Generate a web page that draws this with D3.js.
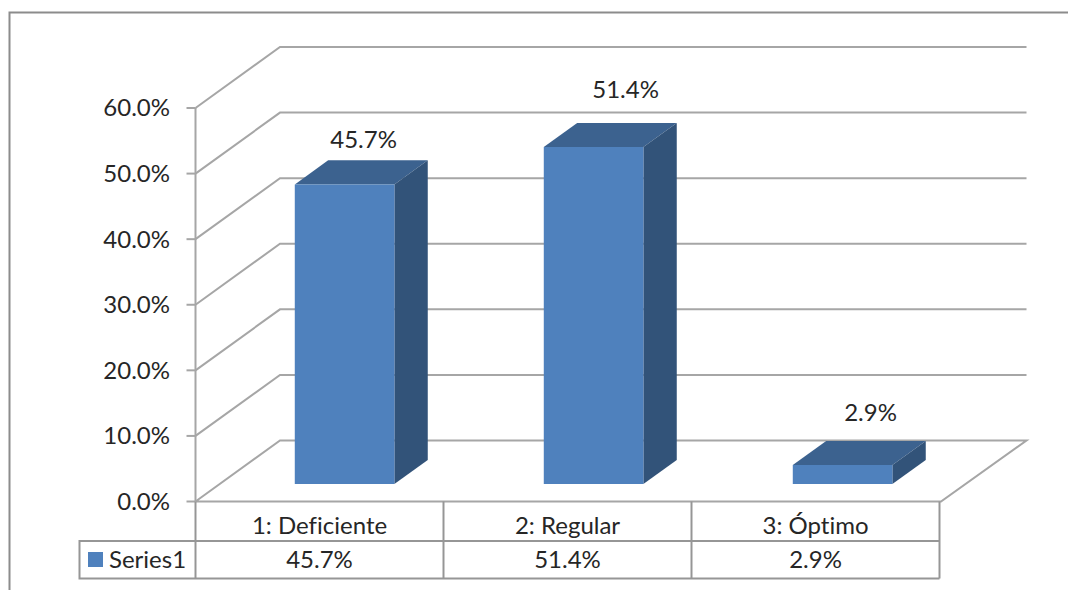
<!DOCTYPE html>
<html>
<head>
<meta charset="utf-8">
<script src="https://cdn.jsdelivr.net/npm/d3@7/dist/d3.min.js"></script>
<style>
html,body{margin:0;padding:0;background:#fff;}
svg{display:block;}
text{font-family:Lato,"Open Sans",sans-serif;fill:#262626;font-variant-ligatures:none;}
</style>
</head>
<body>
<svg id="chart" width="1068" height="590"></svg>
<script>
const categories = ["1: Deficiente", "2: Regular", "3: Óptimo"];
const seriesName = "Series1";
const values = [45.7, 51.4, 2.9];
const yTicks = [0, 10, 20, 30, 40, 50, 60];
// hand-placed data labels, relative to each column's front top-centre
const labelNudgeX = [19, 32, 28];
const labelNudgeY = [-45, -57, -52];

const H = 590, W = 1068;
const gridColor = "#a6a6a6", frameColor = "#8c8c8c", tableColor = "#969696";
const front = "#4f81bd", top_ = "#3c628f", side = "#325379";
const labelSize = 24, tableSize = 24;

const svg = d3.select("#chart");
const fmt = v => v.toFixed(1) + "%";

const y = d3.scaleLinear().domain([0, 60]).range([501.5, 108]);
const x = d3.scaleBand().domain(categories).range([195.5, 939.5]);
const barX = d3.scaleBand().domain(categories).range([196, 943]);
// floor depth: 0 is the front edge, 1 the back wall
const zx = d3.scaleLinear().domain([0, 1]).range([0, 84.5]);
const zy = d3.scaleLinear().domain([0, 1]).range([0, -61]);
const barFrontZ = 0.285, barBackZ = 0.68, barFrac = 0.4;
const backRight = 1026.5;

// chart area frame: only the top and left edges fall on the page
svg.append("path")
  .attr("d", d3.line()([[9.5, H], [9.5, 12.5], [W, 12.5]]))
  .attr("fill", "none").attr("stroke", frameColor).attr("stroke-width", 2);

const grid = svg.append("g").attr("fill", "none").attr("stroke", gridColor).attr("stroke-width", 2);
yTicks.forEach(t => {
  const pts = t === 0
    ? [[x.range()[0], y(0)], [x.range()[0] + zx(1), y(0) + zy(1)], [backRight, y(0) + zy(1)], [x.range()[1] + 1.5, y(0)], [x.range()[0], y(0)]]
    : [[x.range()[0], y(t)], [x.range()[0] + zx(1), y(t) + zy(1)], [backRight, y(t) + zy(1)]];
  grid.append("path").attr("d", d3.line()(pts));
  grid.append("line").attr("x1", x.range()[0] - 9).attr("x2", x.range()[0])
    .attr("y1", y(t)).attr("y2", y(t));
});
grid.append("line").attr("x1", x.range()[0]).attr("x2", x.range()[0]).attr("y1", y(60)).attr("y2", y(0));

svg.append("g").selectAll("text").data(yTicks).join("text")
  .attr("x", 170).attr("y", d => y(d))
  .attr("dy", "0.35em").attr("text-anchor", "end").attr("font-size", labelSize)
  .text(fmt);

// columns drawn as three visible faces
const bars = svg.append("g").selectAll("g").data(values).join("g");
const geom = (d, i) => {
  const w = barX.bandwidth() * barFrac;
  const l = barX(categories[i]) + (barX.bandwidth() - w) / 2 + zx(barFrontZ);
  const r = l + w;
  const b = y(0) + zy(barFrontZ), t = y(d) + zy(barFrontZ);
  const dx = zx(barBackZ - barFrontZ), dy = zy(barBackZ - barFrontZ);
  return {l, r, b, t, dx, dy};
};
bars.append("path").attr("fill", top_).attr("d", (d, i) => {
  const g = geom(d, i);
  return d3.line()([[g.l, g.t], [g.r, g.t], [g.r + g.dx, g.t + g.dy], [g.l + g.dx, g.t + g.dy]]) + "Z";
});
bars.append("path").attr("fill", side).attr("d", (d, i) => {
  const g = geom(d, i);
  return d3.line()([[g.r, g.t], [g.r + g.dx, g.t + g.dy], [g.r + g.dx, g.b + g.dy], [g.r, g.b]]) + "Z";
});
bars.append("path").attr("fill", front).attr("d", (d, i) => {
  const g = geom(d, i);
  return d3.line()([[g.l, g.t], [g.r, g.t], [g.r, g.b], [g.l, g.b]]) + "Z";
});
bars.append("text")
  .attr("x", (d, i) => { const g = geom(d, i); return (g.l + g.r) / 2 + labelNudgeX[i]; })
  .attr("y", (d, i) => geom(d, i).t + labelNudgeY[i])
  .attr("dy", "0.35em").attr("text-anchor", "middle").attr("font-size", labelSize)
  .text(fmt);

// data table under the plot
const rowTop = y(0), rowMid = 541, rowBot = 578.5, legendLeft = 79.5;
const table = svg.append("g").attr("fill", "none").attr("stroke", tableColor).attr("stroke-width", 2);
const edges = [...x.domain().map(c => x(c)), x.range()[1]];
edges.forEach(e => table.append("line").attr("x1", e).attr("x2", e).attr("y1", rowTop).attr("y2", rowBot));
table.append("path").attr("d", d3.line()([[x.range()[1], rowMid], [legendLeft, rowMid], [legendLeft, rowBot], [x.range()[1], rowBot]]));

svg.append("g").selectAll("text").data(categories).join("text")
  .attr("x", d => x(d) + x.bandwidth() / 2).attr("y", (rowTop + rowMid) / 2 + 4)
  .attr("dy", "0.35em").attr("text-anchor", "middle").attr("font-size", tableSize)
  .text(d => d);
svg.append("g").selectAll("text").data(values).join("text")
  .attr("x", (d, i) => x(categories[i]) + x.bandwidth() / 2).attr("y", (rowMid + rowBot) / 2)
  .attr("dy", "0.35em").attr("text-anchor", "middle").attr("font-size", tableSize)
  .text(fmt);

svg.append("rect").attr("x", 88).attr("y", 552).attr("width", 15).attr("height", 15).attr("fill", front);
svg.append("text").attr("x", 109).attr("y", (rowMid + rowBot) / 2)
  .attr("dy", "0.35em").attr("font-size", tableSize).text(seriesName);
</script>
</body>
</html>
